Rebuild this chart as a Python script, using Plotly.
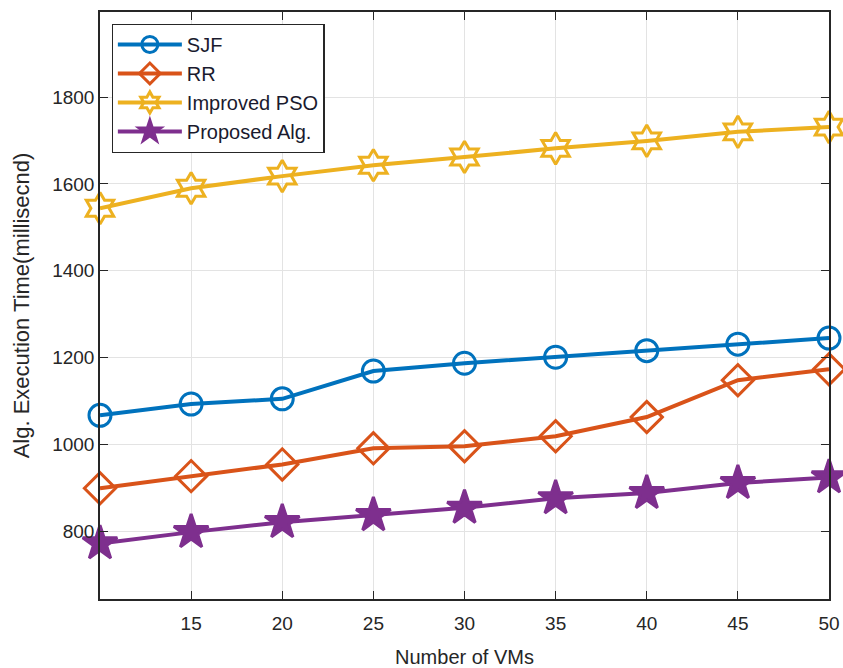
import plotly.graph_objects as go

vms = [10, 15, 20, 25, 30, 35, 40, 45, 50]
sjf = [1067, 1093, 1105, 1169, 1187, 1201, 1216, 1231, 1245]
rr = [899, 927, 954, 991, 996, 1019, 1063, 1148, 1173]
pso = [1544, 1590, 1618, 1643, 1662, 1682, 1699, 1720, 1731]
proposed = [772, 798, 821, 837, 854, 876, 888, 911, 924]

x_ticks = [15, 20, 25, 30, 35, 40, 45, 50]
y_ticks = [800, 1000, 1200, 1400, 1600, 1800]

series = [
    ("SJF", sjf, "#0072BD", "circle-open", 22),
    ("RR", rr, "#D95319", "diamond-open", 24),
    ("Improved PSO", pso, "#EDB120", "hexagram-open", 24),
    ("Proposed Alg.", proposed, "#7E2F8E", "star", 26),
]

fig = go.Figure()
for name, ys, color, sym, size in series:
    fig.add_trace(go.Scatter(
        x=vms, y=ys, name=name, mode="lines+markers",
        line=dict(color=color, width=4),
        marker=dict(symbol=sym, size=size, color=color,
                    line=dict(color=color, width=3)),
        cliponaxis=False,
    ))

fam = "Liberation Sans, Arial, sans-serif"
axis_font = dict(family=fam, size=19, color="#262626")

fig.update_layout(
    width=843, height=668,
    margin=dict(l=100, r=14, t=12, b=69),
    paper_bgcolor="white", plot_bgcolor="white",
    font=axis_font,
    showlegend=True,
    legend=dict(
        x=0.016, y=0.98, xanchor="left", yanchor="top",
        bgcolor="white", bordercolor="#262626", borderwidth=1.2,
        font=dict(family=fam, size=20, color="#1a1a2e"),
        itemwidth=64, tracegroupgap=0,
    ),
    xaxis=dict(
        range=[10, 50], tickvals=x_ticks, ticks="inside", ticklen=8,
        tickcolor="#262626", showgrid=True, gridcolor="#e3e3e3", gridwidth=1,
        showline=True, linecolor="#262626", linewidth=1.5, mirror="ticks",
        zeroline=False, tickfont=axis_font, ticklabelstandoff=6,
        automargin=False,
        title=dict(text="Number of VMs", font=dict(family=fam, size=20, color="#262626"), standoff=22),
    ),
    yaxis=dict(
        range=[644, 1996], tickvals=y_ticks, ticks="inside", ticklen=8,
        tickcolor="#262626", showgrid=True, gridcolor="#e3e3e3", gridwidth=1,
        showline=True, linecolor="#262626", linewidth=1.5, mirror="ticks",
        zeroline=False, tickfont=axis_font, automargin=False,
        title=dict(text="Alg. Execution Time(millisecnd)", font=dict(family=fam, size=22, color="#262626"), standoff=16),
    ),
)

fig.write_html("out.html")
